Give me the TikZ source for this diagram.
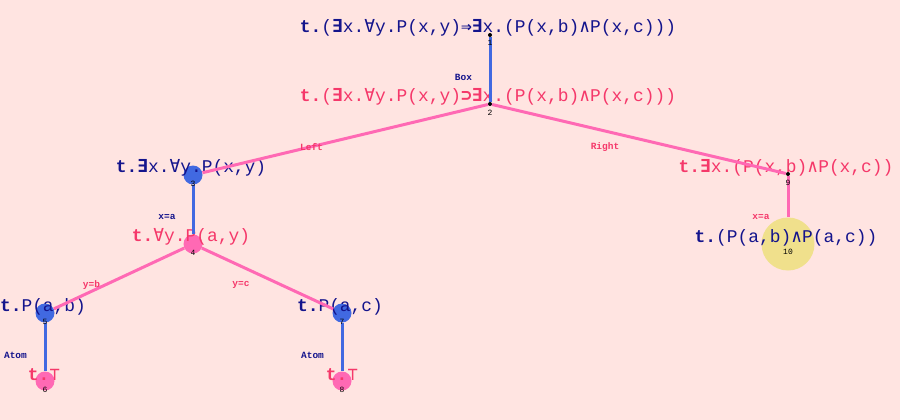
\documentclass[tikz,border=0pt]{standalone}
\usepackage{fontspec}
\setmonofont{Liberation Mono}
\newfontfamily\symf{DejaVu Sans Mono}
\definecolor{bgc}{HTML}{FFE4E1}
\definecolor{navyc}{HTML}{14148C}
\definecolor{pinkt}{HTML}{F5386A}
\definecolor{royalb}{HTML}{4169E1}
\definecolor{hotp}{HTML}{FF69B4}
\definecolor{khakic}{HTML}{F0E08C}
\newcommand{\sEx}{{\symf\bfseries ∃}}
\newcommand{\sAll}{{\symf ∀}}
\newcommand{\sImp}{{\symf\bfseries ⇒}}
\newcommand{\sSupset}{{\symf\bfseries ⊃}}
\newcommand{\sAnd}{{\symf ∧}}
\newcommand{\sTop}{{\symf ⊤}}
\newcommand{\tdot}{{\bfseries t.}}
\tikzset{
  formula/.style={font=\ttfamily\fontsize{17.9}{17.9}\selectfont, inner sep=0pt, anchor=base},
  navyf/.style={formula, text=navyc},
  pinkf/.style={formula, text=pinkt},
  elabel/.style={font=\ttfamily\bfseries\fontsize{9.5}{9.5}\selectfont, inner sep=0pt},
  elnavy/.style={elabel, text=navyc},
  elpink/.style={elabel, text=pinkt},
  numlab/.style={font=\ttfamily\fontsize{8}{8}\selectfont, inner sep=0pt, text=black},
  bdot/.style={circle, fill=black, inner sep=0pt, minimum size=4},
  bluec/.style={circle, fill=royalb, inner sep=0pt, minimum size=19},
  pinkc/.style={circle, fill=hotp, inner sep=0pt, minimum size=19},
  yellc/.style={circle, fill=khakic, inner sep=0pt, minimum size=53},
  bedge/.style={draw=royalb, line width=3pt},
  pedge/.style={draw=hotp, line width=3pt}
}
\begin{document}
\begin{tikzpicture}[x=1pt, y=-1pt]
\fill[bgc] (0,0) rectangle (900,420);
\useasboundingbox (0,0) rectangle (900,420);
% node markers
\node[bdot]  (n1)  at (490,35)  {};
\node[bdot]  (n2)  at (490,104) {};
\node[bluec] (n3)  at (193,175) {};
\node[pinkc] (n4)  at (193,244) {};
\node[bluec] (n5)  at (45,313)  {};
\node[pinkc] (n6)  at (45,381)  {};
\node[bluec] (n7)  at (342,313) {};
\node[pinkc] (n8)  at (342,381) {};
\node[bdot]  (n9)  at (788,174) {};
\node[yellc] (n10) at (788,244) {};
% formulas
\node[navyf] (t1) at (488,33) {\tdot(\sEx x.\sAll y.P(x,y)\sImp\sEx x.(P(x,b)\sAnd P(x,c)))};
\node[pinkf] (t2) at (488,101) {\tdot(\sEx x.\sAll y.P(x,y)\sSupset\sEx x.(P(x,b)\sAnd P(x,c)))};
\node[navyf] (t3) at (191,172) {\tdot\sEx x.\sAll y.P(x,y)};
\node[pinkf] (t4) at (191,241) {\tdot\sAll y.P(a,y)};
\node[navyf] (t5) at (43,311) {\tdot P(a,b)};
\node[pinkf] (t6) at (44,380) {\tdot\sTop};
\node[navyf] (t7) at (340,311) {\tdot P(a,c)};
\node[pinkf] (t8) at (342,380) {\tdot\sTop};
\node[pinkf] (t9) at (786,172) {\tdot\sEx x.(P(x,b)\sAnd P(x,c))};
\node[navyf] (t10) at (786,242) {\tdot(P(a,b)\sAnd P(a,c))};
% edges
\draw[bedge] (n1) -- (n2);
\draw[pedge] (n2) -- (n3);
\draw[pedge] (n2) -- (n9);
\draw[bedge] (n3) -- (n4);
\draw[pedge] (n4) -- (n5);
\draw[pedge] (n4) -- (n7);
\draw[bedge] (n5) -- (n6);
\draw[bedge] (n7) -- (n8);
\draw[pedge] (n9) -- (n10);
% edge labels
\node[elnavy] (e12) at (463.5,77) {Box};
\node[elpink] (e23) at (311.5,147) {Left};
\node[elpink] (e29) at (605,147) {Right};
\node[elnavy] (e34) at (167,216.5) {x=a};
\node[elpink] (e45) at (91.5,285) {y=b};
\node[elpink] (e47) at (241,285) {y=c};
\node[elnavy] (e56) at (15.5,355) {Atom};
\node[elnavy] (e78) at (312.5,355) {Atom};
\node[elpink] (e910) at (761,216.5) {x=a};
% numbers
\node[numlab] (l1) at (490,43) {1};
\node[numlab] (l2) at (490,113) {2};
\node[numlab] (l3) at (193,183.5) {3};
\node[numlab] (l4) at (193,253) {4};
\node[numlab] (l5) at (45,322) {5};
\node[numlab] (l6) at (45,390) {6};
\node[numlab] (l7) at (342,322) {7};
\node[numlab] (l8) at (342,390) {8};
\node[numlab] (l9) at (788,182.5) {9};
\node[numlab] (l10) at (788,252) {10};
\end{tikzpicture}
\end{document}
